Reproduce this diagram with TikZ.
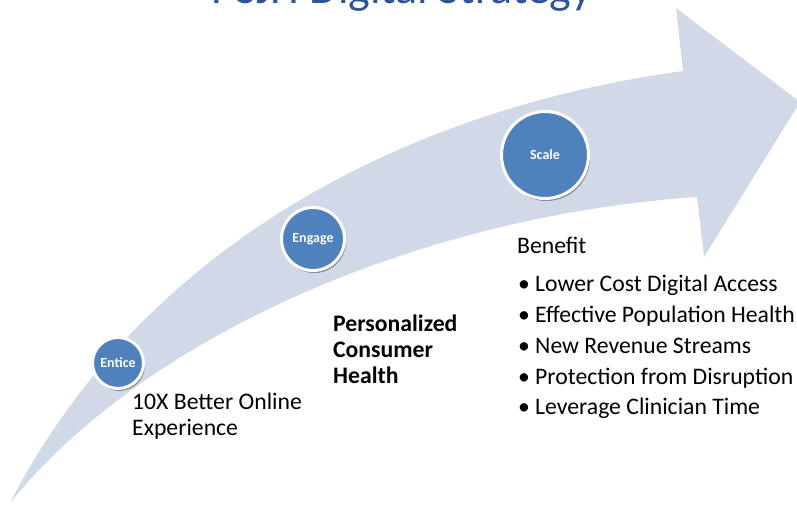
\documentclass[tikz,border=0pt]{standalone}
\usepackage{fontspec}
\setmainfont{Carlito}
\usetikzlibrary{shadows}

\definecolor{bandfill}{RGB}{209,217,232}
\definecolor{stagefill}{RGB}{79,129,189}
\definecolor{titleblue}{RGB}{47,85,151}

\tikzset{
  band/.style={fill=bandfill},
  stage/.style={circle, fill=stagefill, draw=white, line width=3pt,
    text=white, font=\fontsize{14}{16}\selectfont\bfseries, inner sep=0pt,
    drop shadow={shadow xshift=1.5pt, shadow yshift=-2.5pt, opacity=0.35, fill=black}},
  body/.style={anchor=base west, inner sep=0pt, font=\fontsize{23.7}{26}\selectfont, text=black},
  boldbody/.style={body, font=\fontsize{23.7}{26}\selectfont\bfseries},
  titletext/.style={anchor=base, inner sep=0pt, font=\fontsize{46}{50}\selectfont, text=titleblue}
}

\newcommand{\bulletline}[1]{\makebox[17pt][l]{•}#1}

\begin{document}
\begin{tikzpicture}[x=1pt, y=-1pt]
  \useasboundingbox (0,0) rectangle (797,505);
  \clip (0,0) rectangle (797,505);

  % title, its upper part runs off the top edge
  \node[titletext] (title) at (402,3.5) {PSJH Digital Strategy};

  % curved arrow band
  \fill[band] (10,503) .. controls (140,250) and (400,110) .. (683,71)
    -- (676,8) -- (800,102) -- (704,257) -- (697,197)
    .. controls (430,215) and (150,330) .. (10,503) -- cycle;

  % stage markers along the arrow
  \node[stage, minimum size=51pt] (entice) at (118,363) {Entice};
  \node[stage, minimum size=63pt] (engage) at (313,239) {Engage};
  \node[stage, minimum size=87pt] (scale)  at (545,155) {Scale};

  % stage descriptions (base anchor sits on the last line)
  \node[body, align=left] (exp) at (132,435) {10X Better Online\\Experience};
  \node[boldbody, align=left] (pch) at (333,383) {Personalized\\Consumer\\Health};

  \node[body] (benefit) at (517,253) {Benefit};
  \node[body] (b1) at (518,291) {\bulletline{Lower Cost Digital Access}};
  \node[body] (b2) at (518,322) {\bulletline{Effective Population Health}};
  \node[body] (b3) at (518,353) {\bulletline{New Revenue Streams}};
  \node[body] (b4) at (518,384) {\bulletline{Protection from Disruption}};
  \node[body] (b5) at (518,414) {\bulletline{Leverage Clinician Time}};
\end{tikzpicture}
\end{document}
